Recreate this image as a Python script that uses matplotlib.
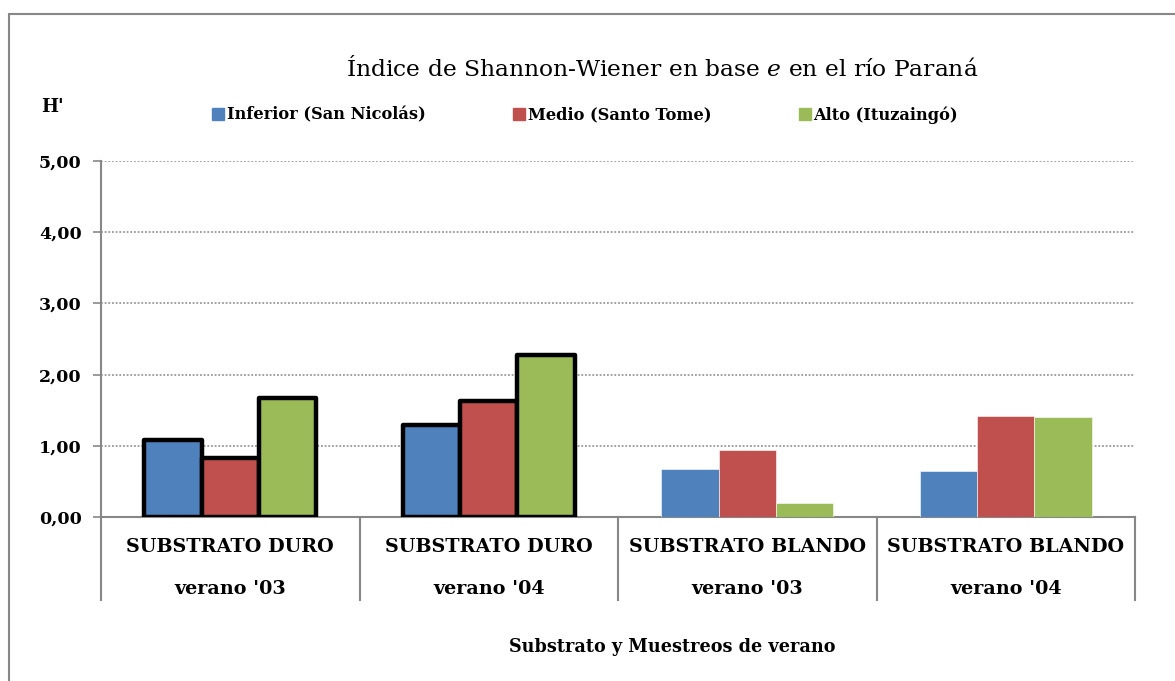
import matplotlib
matplotlib.use('Agg')
import matplotlib.pyplot as plt
import matplotlib.patches as mpatches
import numpy as np

# data
substratos = ['SUBSTRATO DURO', 'SUBSTRATO DURO', 'SUBSTRATO BLANDO', 'SUBSTRATO BLANDO']
muestreos = ["verano '03", "verano '04", "verano '03", "verano '04"]
series = ['Inferior (San Nicolás)', 'Medio (Santo Tome)', 'Alto (Ituzaingó)']
inferior = [1.08, 1.29, 0.68, 0.64]
medio = [0.83, 1.63, 0.94, 1.42]
alto = [1.67, 2.28, 0.20, 1.41]
yticks = [0, 1, 2, 3, 4, 5]
ytick_labels = ['0,00', '1,00', '2,00', '3,00', '4,00', '5,00']
duro = [True, True, False, False]  # hard substrate bars have thick black outline

colors = ['#4F81BD', '#C0504D', '#9BBB59']
grey = '#878787'
font = 'DejaVu Serif'
plt.rcParams['font.family'] = font
plt.rcParams['mathtext.fontset'] = 'dejavuserif'

W, H = 1175, 681
fig = plt.figure(figsize=(W / 100, H / 100), dpi=100)

# outer chart-area border (only top and left visible)
fig.patches.append(mpatches.Rectangle((9 / W, -0.1), 1.2, 1 - 14 / H + 0.1,
                                      transform=fig.transFigure, fill=False,
                                      edgecolor=grey, linewidth=1.5))

ax = fig.add_axes([101 / W, 1 - 517 / H, (1135 - 101) / W, (517 - 161) / H])

x = np.arange(len(substratos))
bw = 1 / (3 + 1.51)
handles = []
for i, (vals, col, name) in enumerate(zip([inferior, medio, alto], colors, series)):
    offs = (i - 1) * bw
    for j in range(len(x)):
        if duro[j]:
            ax.bar(x[j] + offs, vals[j], bw, color=col, edgecolor='black',
                   linewidth=3.2, joinstyle='round', zorder=4)
        else:
            ax.bar(x[j] + offs, vals[j], bw, color=col, edgecolor='white',
                   linewidth=0.4, zorder=3)
    handles.append(mpatches.Patch(color=col, label=name))

ax.set_xlim(-0.5, len(x) - 0.5)
ax.set_ylim(0, 5)
ax.set_yticks(yticks)
ax.set_yticklabels(ytick_labels, fontsize=12.5, fontweight='bold')
ax.tick_params(axis='y', direction='out', length=6, color=grey, width=1.2, pad=8)
ax.set_xticks([])
for s in ['top', 'right']:
    ax.spines[s].set_visible(False)
ax.spines['left'].set_color(grey)
ax.spines['left'].set_linewidth(1.5)
ax.spines['bottom'].set_color(grey)
ax.spines['bottom'].set_linewidth(1.5)

for yv in yticks[1:]:
    ax.axhline(yv, color=grey, linestyle=(0, (1.2, 1.2)), linewidth=1.1, zorder=1)

# category separators and two-row labels below the axis
trans = ax.get_xaxis_transform()
sep_bottom = -(600 - 517) / (517 - 161)
for b in np.arange(len(x) + 1) - 0.5:
    ax.plot([b, b], [0, sep_bottom], color=grey, linewidth=1.5, transform=trans,
            clip_on=False)
for j in range(len(x)):
    ax.text(x[j], -(547 - 517) / (517 - 161), substratos[j], transform=trans,
            ha='center', va='center', fontsize=13.8, fontweight='bold')
    ax.text(x[j], -(589 - 517) / (517 - 161), muestreos[j], transform=trans,
            ha='center', va='center', fontsize=13.8, fontweight='bold')

fig.text(672 / W, 1 - 647 / H, 'Substrato y Muestreos de verano',
         ha='center', va='center', fontsize=12.7, fontweight='bold')

fig.text(662 / W, 1 - 68 / H, 'Índice de Shannon-Wiener en base $\\it{e}$ en el río Paraná',
         ha='center', va='center', fontsize=16.8)
fig.text(52 / W, 1 - 107 / H, "H'", ha='center', va='center', fontsize=13,
         fontweight='bold')

fig.legend(handles=handles, loc='center', bbox_to_anchor=(585 / W, 1 - 115 / H),
           ncol=3, frameon=False, handlelength=0.74, handleheight=0.74,
           handletextpad=0.15, columnspacing=5.4,
           prop={'family': font, 'weight': 'bold', 'size': 11.7})

fig.savefig('out.png', dpi=100)
